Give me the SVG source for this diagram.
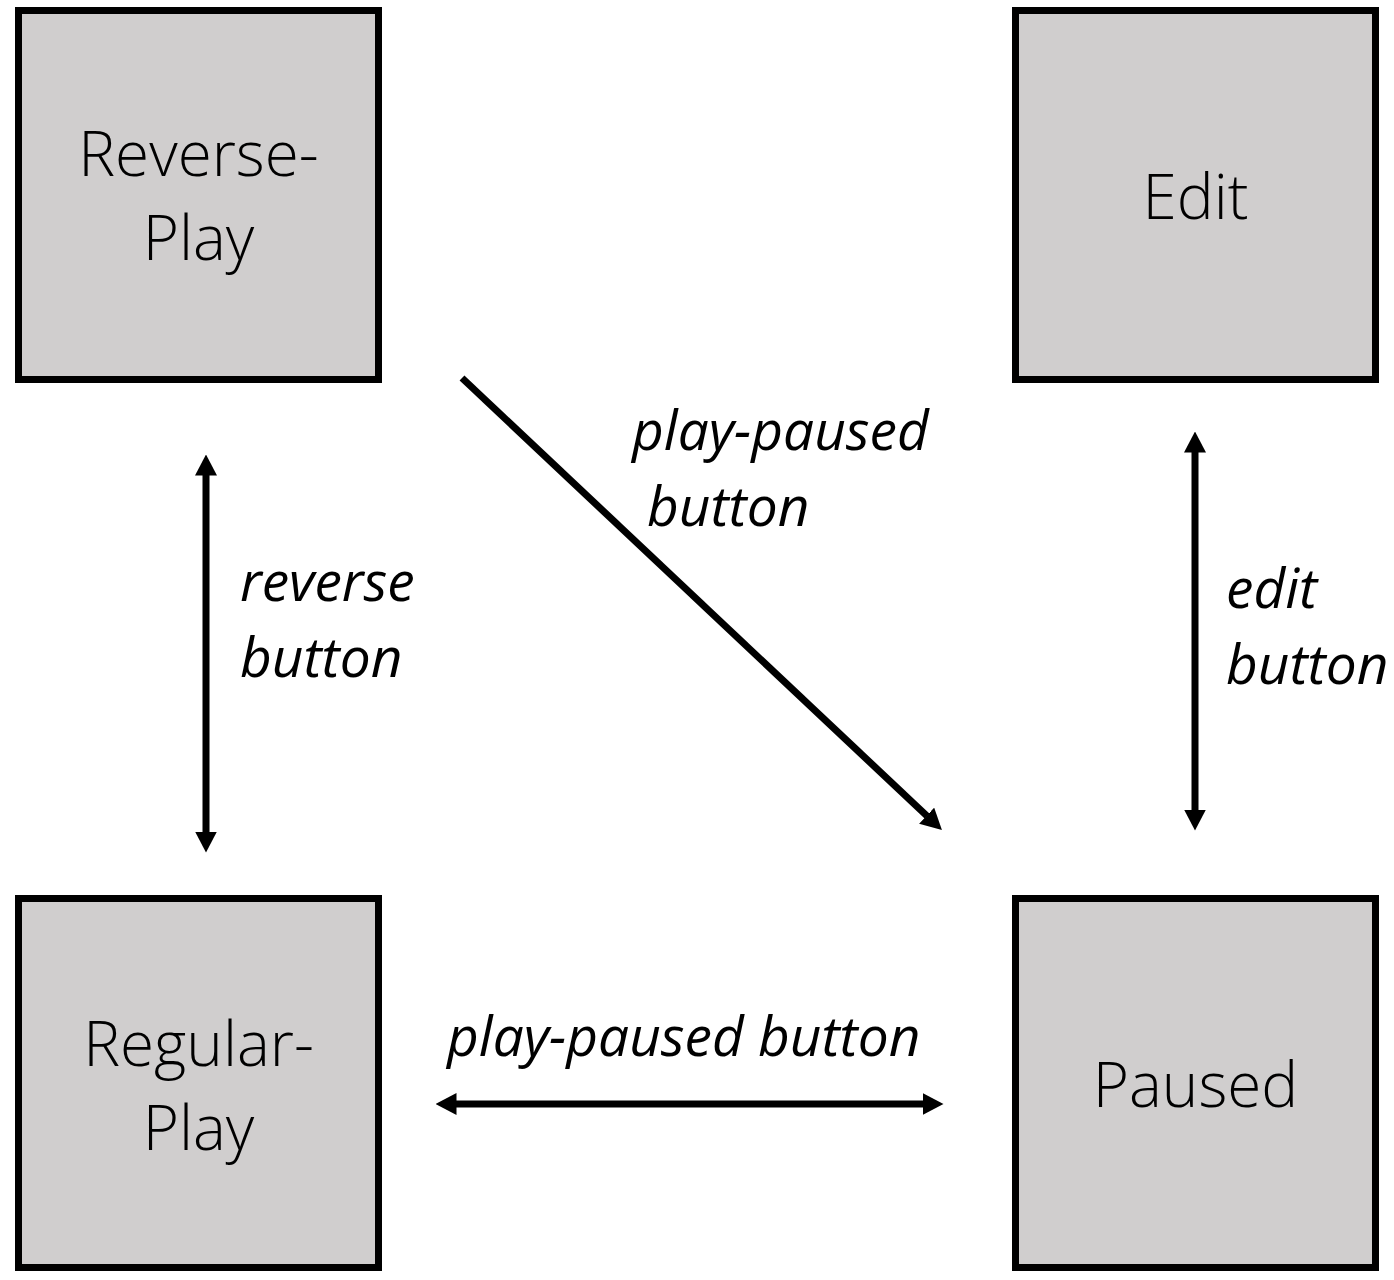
<svg xmlns="http://www.w3.org/2000/svg" width="1394" height="1280" viewBox="0 0 1394 1280">
<style>
.box{fill:#d0cece;stroke:#000;stroke-width:7}
.nt{font-family:"Open Sans","Noto Sans","DejaVu Sans",sans-serif;font-size:62px;font-weight:300;fill:#000;text-anchor:middle}
.lb{font-family:"Open Sans","Noto Sans","DejaVu Sans",sans-serif;font-size:55px;font-weight:400;font-style:italic;fill:#000}
.cn{stroke:#000;stroke-width:7;fill:none}
</style>
<defs>
<marker id="ah" viewBox="0 0 21 22" refX="0.5" refY="11" markerWidth="21" markerHeight="22" markerUnits="userSpaceOnUse" orient="auto-start-reverse">
<path d="M0,0 L21,11 L0,22 Z" fill="#000"/>
</marker>
</defs>
<rect width="1394" height="1280" fill="#fff"/>
<g id="reverse-play">
<rect class="box" x="18.5" y="10.5" width="360" height="369"/>
<text class="nt" x="198.5" y="176">Reverse-</text>
<text class="nt" x="198.5" y="260">Play</text>
</g>
<g id="edit">
<rect class="box" x="1015.5" y="10.5" width="360" height="369"/>
<text class="nt" x="1195.5" y="219">Edit</text>
</g>
<g id="regular-play">
<rect class="box" x="18.5" y="898.5" width="360" height="369"/>
<text class="nt" x="198.5" y="1066">Regular-</text>
<text class="nt" x="198.5" y="1150">Play</text>
</g>
<g id="paused">
<rect class="box" x="1015.5" y="898.5" width="360" height="369"/>
<text class="nt" x="1195.5" y="1107">Paused</text>
</g>
<g id="connectors">
<line class="cn" x1="206" y1="475" x2="206" y2="832" marker-start="url(#ah)" marker-end="url(#ah)"/>
<line class="cn" x1="462" y1="378" x2="927" y2="816" marker-end="url(#ah)"/>
<line class="cn" x1="1195" y1="452" x2="1195" y2="810" marker-start="url(#ah)" marker-end="url(#ah)"/>
<line class="cn" x1="456" y1="1104" x2="923" y2="1104" marker-start="url(#ah)" marker-end="url(#ah)"/>
</g>
<g id="labels">
<text class="lb" x="632" y="450">play-paused</text>
<text class="lb" x="647" y="526">button</text>
<text class="lb" x="240" y="601">reverse</text>
<text class="lb" x="240" y="677">button</text>
<text class="lb" x="1226" y="608">edit</text>
<text class="lb" x="1226" y="684">button</text>
<text class="lb" x="447" y="1056">play-paused button</text>
</g>
</svg>
